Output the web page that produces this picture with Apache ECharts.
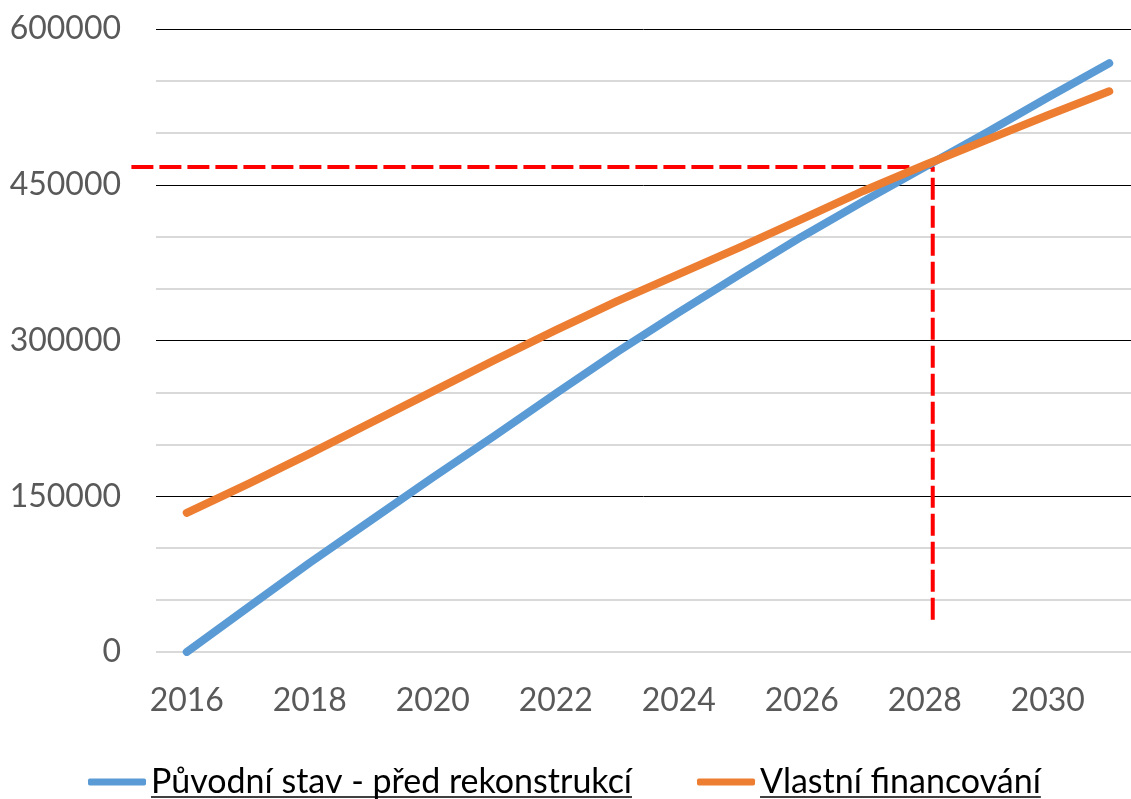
<!DOCTYPE html>
<html>
<head>
<meta charset="utf-8">
<script src="https://cdn.jsdelivr.net/npm/echarts@6/dist/echarts.min.js"></script>
<style>
  html, body { margin: 0; padding: 0; background: #fff; }
  #chart { width: 1131px; height: 799px; }
</style>
</head>
<body>
<div id="chart"></div>
<script>
  // data
  const years = [2016, 2017, 2018, 2019, 2020, 2021, 2022, 2023,
                 2024, 2025, 2026, 2027, 2028, 2029, 2030, 2031];
  const puvodniStav = [0, 43000, 86000, 127000, 168000, 208000, 249000, 289000,
                       327000, 364000, 400000, 434000, 467000, 500000, 534000, 567000];
  const vlastniFinancovani = [134000, 162000, 191000, 221000, 251000, 281000, 310000, 338000,
                              364000, 390000, 417000, 444000, 469000, 493000, 517000, 540000];
  const xTickLabels = [2016, 2018, 2020, 2022, 2024, 2026, 2028, 2030];
  const yTickLabels = [0, 150000, 300000, 450000, 600000];
  // break-even guide (year, value)
  const breakEven = [[2015.1, 467000], [2028.13, 467000], [2028.13, 31000]];

  const names = ['Původní stav - před rekonstrukcí', 'Vlastní financování'];

  const yearPx = 61.5;               // one year on the x axis
  const plotLeft = 156, guideLeft = 131;
  const xMax = 2015.5 + (1131 - plotLeft) / yearPx;
  const legendFont = '34px Lato';
  const legendLeft = 88, iconW = 58, legendGap = 65;

  // grey lines every 50000, black ones every 150000 (not at 0)
  let greyColors = [];
  for (let v = 0; v <= 600000; v += 50000) {
    greyColors.push(v > 0 && v % 150000 === 0 ? 'rgba(0,0,0,0)' : '#D9D9D9');
  }
  let blackColors = yTickLabels.map(v => v === 0 ? 'rgba(0,0,0,0)' : '#000000');

  // underline under the legend texts
  let ctx = document.createElement('canvas').getContext('2d');
  ctx.font = legendFont;
  let underline = [];
  let x = legendLeft;
  for (let i = 0; i < names.length; i++) {
    let tx = x + iconW + 5;
    let w = ctx.measureText(names[i]).width;
    underline.push({
      type: 'line',
      shape: {x1: tx, y1: 797, x2: tx + w, y2: 797},
      style: {stroke: '#000', lineWidth: 1.5}
    });
    x = tx + w + legendGap;
  }

  let pairs = arr => years.map((y, i) => [y, arr[i]]);

  let chart = echarts.init(document.getElementById('chart'));
  let option = {
    animation: false,
    textStyle: {fontFamily: 'Lato'},
    grid: [
      {left: plotLeft, top: 29, right: 0, height: 623},
      {left: guideLeft, top: 29, right: 0, height: 623}
    ],
    legend: {
      left: legendLeft,
      top: 765,
      padding: 0,
      icon: 'roundRect',
      itemWidth: iconW,
      itemHeight: 7,
      itemGap: legendGap,
      textStyle: {fontSize: 34, color: '#000', fontFamily: 'Lato'},
      data: names
    },
    xAxis: [
      {
        type: 'value',
        gridIndex: 0,
        min: 2015.5,
        max: xMax,
        axisLine: {show: false},
        axisTick: {show: false},
        splitLine: {show: false},
        axisLabel: {
          customValues: xTickLabels,
          margin: 33,
          fontSize: 32,
          color: '#595959',
          formatter: v => String(v)
        }
      },
      {
        type: 'value',
        gridIndex: 1,
        min: 2015.5 - (plotLeft - guideLeft) / yearPx,
        max: xMax,
        show: false
      }
    ],
    yAxis: [
      {
        type: 'value',
        gridIndex: 0,
        min: 0,
        max: 600000,
        interval: 50000,
        axisLine: {show: false},
        axisTick: {show: false},
        axisLabel: {
          margin: 35,
          fontSize: 32,
          color: '#595959',
          formatter: v => yTickLabels.indexOf(v) >= 0 ? String(v) : ''
        },
        splitLine: {lineStyle: {color: greyColors, width: 2}}
      },
      {
        type: 'value',
        gridIndex: 0,
        position: 'left',
        min: 0,
        max: 600000,
        interval: 150000,
        axisLine: {show: false},
        axisTick: {show: false},
        axisLabel: {show: false},
        splitLine: {lineStyle: {color: blackColors, width: 1}}
      },
      {
        type: 'value',
        gridIndex: 1,
        min: 0,
        max: 600000,
        show: false,
        splitLine: {show: false}
      }
    ],
    graphic: underline,
    series: [
      {
        name: 'guide',
        type: 'line',
        xAxisIndex: 1,
        yAxisIndex: 2,
        data: breakEven,
        symbol: 'none',
        silent: true,
        lineStyle: {color: '#FF0000', width: 4, type: [22, 6]},
        z: 1
      },
      {
        name: names[0],
        type: 'line',
        data: pairs(puvodniStav),
        symbol: 'none',
        color: '#5B9BD5',
        lineStyle: {width: 8, cap: 'round', join: 'round'},
        z: 2
      },
      {
        name: names[1],
        type: 'line',
        data: pairs(vlastniFinancovani),
        symbol: 'none',
        color: '#ED7D31',
        lineStyle: {width: 8, cap: 'round', join: 'round'},
        z: 3
      }
    ]
  };
  chart.setOption(option);
</script>
</body>
</html>
